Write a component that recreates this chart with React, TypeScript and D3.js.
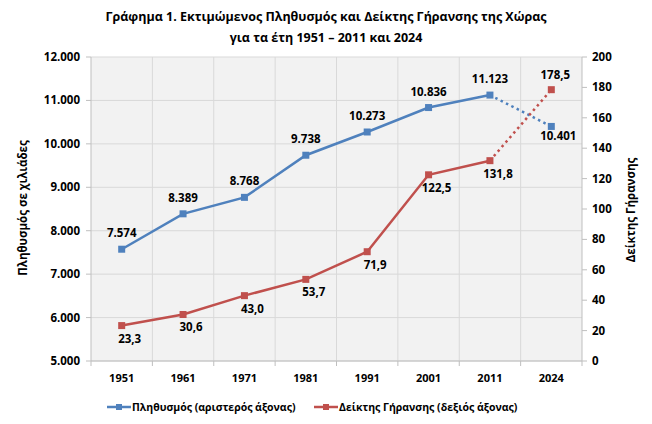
import React from "react";
import * as d3 from "d3";

const years = ["1951", "1961", "1971", "1981", "1991", "2001", "2011", "2024"];
const population = [7574, 8389, 8768, 9738, 10273, 10836, 11123, 10401];
const agingIndex = [23.3, 30.6, 43.0, 53.7, 71.9, 122.5, 131.8, 178.5];
const leftTicks = [5000, 6000, 7000, 8000, 9000, 10000, 11000, 12000];
const rightTicks = [0, 20, 40, 60, 80, 100, 120, 140, 160, 180, 200];
const titleLines = [
  "Γράφημα 1. Εκτιμώμενος Πληθυσμός και Δείκτης Γήρανσης της Χώρας",
  "για τα έτη 1951 – 2011 και 2024",
];
const leftAxisTitle = "Πληθυσμός σε χιλιάδες";
const rightAxisTitle = "Δείκτης Γήρανσης";
const legendLabels = ["Πληθυσμός (αριστερός άξονας)", "Δείκτης Γήρανσης (δεξιός άξονας)"];

const W = 652;
const H = 424;
const FONT = "'Open Sans', 'Noto Sans', sans-serif";
const BLUE = "#4f81bd";
const RED = "#c0504d";

const fmtPop = (v: number) => d3.format(",")(v).replace(/,/g, ".");
const fmtIdx = (v: number) => v.toFixed(1).replace(".", ",");

export default function App() {
  const left = 91, right = 582, top = 57, bottom = 361;
  const x = d3.scaleBand<string>().domain(years).range([left, right]).padding(0);
  const yL = d3.scaleLinear().domain([5000, 12000]).range([bottom, top]);
  const yR = d3.scaleLinear().domain([0, 200]).range([bottom, top]);
  const cx = (i: number) => (x(years[i]) as number) + x.bandwidth() / 2;

  const lineL = d3.line<number>().x((_, i) => cx(i)).y((d) => yL(d));
  const lineR = d3.line<number>().x((_, i) => cx(i)).y((d) => yR(d));
  const n = years.length;
  const popSolid = population.slice(0, n - 1);
  const idxSolid = agingIndex.slice(0, n - 1);
  const popDot = `M${cx(n - 2)},${yL(population[n - 2])}L${cx(n - 1)},${yL(population[n - 1])}`;
  const idxDot = `M${cx(n - 2)},${yR(agingIndex[n - 2])}L${cx(n - 1)},${yR(agingIndex[n - 1])}`;

  const boundaries = years.slice(1).map((y) => x(y) as number);
  const ms = 7;

  return (
    <svg width={W} height={H} style={{ display: "block", position: "absolute", left: 0, top: 0 }} fontFamily={FONT}>
      <rect width={W} height={H} fill="#ffffff" />
      {titleLines.map((t, i) => (
        <text key={i} x={326} y={21 + i * 21} textAnchor="middle" fontSize={12.5} fontWeight="bold" fill="#000">
          {t}
        </text>
      ))}
      <rect x={left} y={top} width={right - left} height={bottom - top} fill="#f2f2f2" />
      {leftTicks.map((t) => (
        <line key={t} x1={left} x2={right} y1={yL(t)} y2={yL(t)} stroke="#d9d9d9" strokeWidth={1} />
      ))}
      {boundaries.map((b, i) => (
        <line key={i} x1={b} x2={b} y1={top} y2={bottom} stroke="#d9d9d9" strokeWidth={1} />
      ))}
      {/* axes */}
      <line x1={left} x2={left} y1={top} y2={bottom} stroke="#bfbfbf" />
      <line x1={right} x2={right} y1={top} y2={bottom} stroke="#bfbfbf" />
      <line x1={left} x2={right} y1={bottom} y2={bottom} stroke="#bfbfbf" />
      {leftTicks.map((t) => (
        <g key={t}>
          <line x1={left - 5} x2={left} y1={yL(t)} y2={yL(t)} stroke="#bfbfbf" />
          <text x={left - 11} y={yL(t)} dy="0.35em" textAnchor="end" fontSize={11.5} fontWeight="bold" fill="#000">
            {fmtPop(t)}
          </text>
        </g>
      ))}
      {rightTicks.map((t) => (
        <g key={t}>
          <line x1={right} x2={right + 5} y1={yR(t)} y2={yR(t)} stroke="#bfbfbf" />
          <text x={right + 10} y={yR(t)} dy="0.35em" textAnchor="start" fontSize={11.5} fontWeight="bold" fill="#000">
            {t}
          </text>
        </g>
      ))}
      {[left, ...boundaries, right].map((b, i) => (
        <line key={i} x1={b} x2={b} y1={bottom} y2={bottom + 5} stroke="#bfbfbf" />
      ))}
      {years.map((yr, i) => (
        <text key={yr} x={cx(i)} y={382} textAnchor="middle" fontSize={11} fontWeight="bold" fill="#000">
          {yr}
        </text>
      ))}
      <text transform={`translate(27,208) rotate(-90)`} textAnchor="middle" fontSize={11.5} fontWeight="bold" fill="#000">
        {leftAxisTitle}
      </text>
      <text transform={`translate(635,210) rotate(-90)`} textAnchor="middle" fontSize={11.5} fontWeight="bold" fill="#000">
        {rightAxisTitle}
      </text>
      {/* lines */}
      <path d={lineL(popSolid) as string} fill="none" stroke={BLUE} strokeWidth={2.5} />
      <path d={popDot} fill="none" stroke={BLUE} strokeWidth={2.5} strokeDasharray="2.5,3.5" />
      <path d={lineR(idxSolid) as string} fill="none" stroke={RED} strokeWidth={2.5} />
      <path d={idxDot} fill="none" stroke={RED} strokeWidth={2.5} strokeDasharray="2.5,3.5" />
      {population.map((v, i) => (
        <rect key={"p" + i} x={cx(i) - ms / 2} y={yL(v) - ms / 2} width={ms} height={ms} fill={BLUE} />
      ))}
      {agingIndex.map((v, i) => (
        <rect key={"a" + i} x={cx(i) - ms / 2} y={yR(v) - ms / 2} width={ms} height={ms} fill={RED} />
      ))}
      {population.map((v, i) => {
        const last = i === n - 1;
        return (
          <text key={"pl" + i} x={cx(i) + (last ? 7 : 0)} y={yL(v) + (last ? 14 : -12)} textAnchor="middle" fontSize={11.5} fontWeight="bold" fill="#000">
            {fmtPop(v)}
          </text>
        );
      })}
      {agingIndex.map((v, i) => {
        const last = i === n - 1;
        return (
          <text key={"al" + i} x={cx(i) + (last ? 4 : 8)} y={yR(v) + (last ? -11 : 17)} textAnchor="middle" fontSize={11.5} fontWeight="bold" fill="#000">
            {fmtIdx(v)}
          </text>
        );
      })}
      {/* legend */}
      {[BLUE, RED].map((c, i) => {
        const lx = i === 0 ? 107 : 314;
        return (
          <g key={i}>
            <line x1={lx} x2={lx + 24} y1={407} y2={407} stroke={c} strokeWidth={2.5} />
            <rect x={lx + 12 - 3} y={407 - 3} width={6} height={6} fill={c} />
            <text x={lx + 25} y={407} dy="0.35em" fontSize={10.5} fontWeight="bold" fill="#000">
              {legendLabels[i]}
            </text>
          </g>
        );
      })}
    </svg>
  );
}
